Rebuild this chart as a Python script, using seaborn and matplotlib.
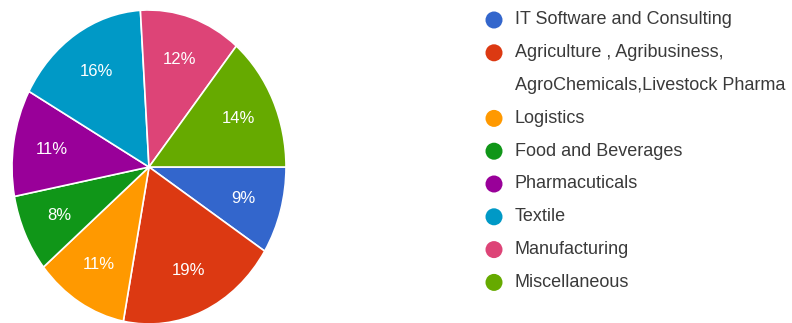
import matplotlib
matplotlib.use("Agg")
import matplotlib.pyplot as plt
import seaborn as sns

# Share of respondents by industry sector (percent)
sectors = [
    "IT Software and Consulting",
    "Agriculture , Agribusiness,\nAgroChemicals,Livestock Pharma",
    "Logistics",
    "Food and Beverages",
    "Pharmacuticals",
    "Textile",
    "Manufacturing",
    "Miscellaneous",
]
shares = [9, 19, 11, 8, 11, 16, 12, 14]
sector_colors = ["#3366CC", "#DC3912", "#FF9900", "#109618",
                 "#990099", "#0099C6", "#DD4477", "#66AA00"]

sns.set_theme(style="white")
plt.rcParams["font.family"] = ["Liberation Sans", "DejaVu Sans"]
palette = sns.color_palette(sector_colors)

W, H = 792, 323
fig = plt.figure(figsize=(W / 100, H / 100), dpi=100)

# Pie area (slightly taller than wide)
cx, cy, rx, ry = 149, 167, 137, 157
ax = fig.add_axes([(cx - rx) / W, 1 - (cy + ry) / H, 2 * rx / W, 2 * ry / H])
wedges, texts, autotexts = ax.pie(
    shares,
    colors=palette,
    startangle=0,
    counterclock=False,
    autopct=lambda p: f"{p:.0f}%",
    pctdistance=0.72,
    wedgeprops=dict(edgecolor="white", linewidth=1.2),
    textprops=dict(color="white", fontsize=12),
)
ax.set_aspect("auto")
ax.set_xlim(-1, 1)
ax.set_ylim(-1, 1)

# Legend drawn as a column of dots and labels; wrapped labels continue on the next row
lax = fig.add_axes([0, 0, 1, 1])
lax.set_xlim(0, W)
lax.set_ylim(H, 0)
lax.axis("off")
y = 20
row = 32.8
for name, col in zip(sectors, palette):
    lax.scatter([494], [y], s=150, color=col, edgecolor="none")
    for line in name.split("\n"):
        lax.text(515, y, line, fontsize=13, color="#3a3a3a",
                 va="center", ha="left")
        y += row

fig.savefig("out.png", dpi=100)
